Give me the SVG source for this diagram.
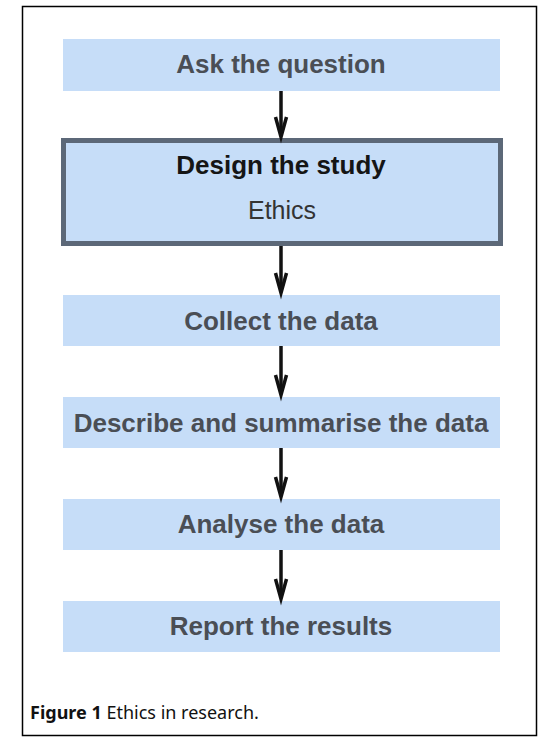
<svg xmlns="http://www.w3.org/2000/svg" width="548" height="742" viewBox="0 0 548 742">
<style>
.box{fill:#c6ddf8;}
.lbl{font-family:"Liberation Sans",Arial,sans-serif;font-weight:bold;font-size:26px;fill:#4a4e55;text-anchor:middle;}
.conn line,.conn polyline{stroke:#111;stroke-width:3.5;fill:none;stroke-linejoin:miter;}
.cap{font-family:"Noto Sans","Open Sans",sans-serif;font-size:18px;fill:#111;}
</style>
<rect width="548" height="742" fill="#fff"/>
<rect x="22.5" y="6.5" width="514" height="729" fill="none" stroke="#000" stroke-width="1.5"/>
<g id="n1"><rect class="box" x="63" y="39" width="437" height="52"/><text class="lbl" x="281" y="73">Ask the question</text></g>
<g id="n2"><rect x="63.5" y="140.5" width="437" height="103" fill="#c6ddf8" stroke="#5c6878" stroke-width="5"/><text x="281" y="174" font-family="Liberation Sans,Arial,sans-serif" font-weight="bold" font-size="26" fill="#151515" text-anchor="middle">Design the study</text><text x="282" y="219" font-family="Liberation Sans,Arial,sans-serif" font-size="25" fill="#333" text-anchor="middle">Ethics</text></g>
<g id="n3"><rect class="box" x="63" y="295" width="437" height="51"/><text class="lbl" x="281" y="330">Collect the data</text></g>
<g id="n4"><rect class="box" x="63" y="397" width="437" height="51"/><text class="lbl" x="281" y="432">Describe and summarise the data</text></g>
<g id="n5"><rect class="box" x="63" y="499" width="437" height="51"/><text class="lbl" x="281" y="533">Analyse the data</text></g>
<g id="n6"><rect class="box" x="63" y="601" width="437" height="51"/><text class="lbl" x="281" y="635">Report the results</text></g>
<g class="conn" id="connectors">
<line x1="281" y1="91" x2="281" y2="136"/><polyline points="275.5,117 281,137 286.5,117"/>
<line x1="281" y1="246" x2="281" y2="292"/><polyline points="275.5,273 281,293 286.5,273"/>
<line x1="281" y1="346" x2="281" y2="394"/><polyline points="275.5,375 281,395 286.5,375"/>
<line x1="281" y1="448" x2="281" y2="496"/><polyline points="275.5,477 281,497 286.5,477"/>
<line x1="281" y1="550" x2="281" y2="598"/><polyline points="275.5,579 281,599 286.5,579"/>
</g>
<text class="cap" x="30" y="719"><tspan font-weight="bold">Figure 1</tspan> Ethics in research.</text>
</svg>
